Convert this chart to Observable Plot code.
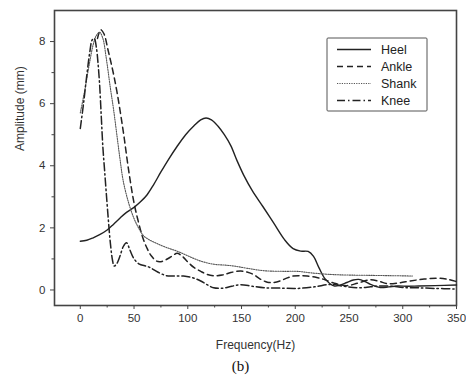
<!DOCTYPE html>
<html><head><meta charset="utf-8">
<script src="https://cdn.jsdelivr.net/npm/d3@7"></script>
<script src="https://cdn.jsdelivr.net/npm/@observablehq/plot@0.6"></script>
<style>
html,body{margin:0;padding:0;background:#fff;}
#chart{width:466px;height:379px;}
</style>
</head><body><div id="chart"></div>
<script>
// ---- data ----
const seriesNames = ["Heel", "Ankle", "Shank", "Knee"];

const heelF = [0,6,12,18,25,31,37,43,50,56,62,68,75,82,90,98,106,112,117,122,128,134,140,146,152,160,170,180,190,198,205,212,217,222,228,236,242,248,254,259,265,270,279,287,295,305,315,330,350];
const heelA = [1.57,1.6,1.68,1.78,1.93,2.12,2.32,2.5,2.66,2.84,3.06,3.38,3.8,4.2,4.62,5.0,5.3,5.48,5.54,5.48,5.28,5.0,4.65,4.15,3.7,3.2,2.68,2.15,1.62,1.33,1.25,1.24,1.08,0.72,0.35,0.13,0.16,0.24,0.32,0.34,0.27,0.18,0.08,0.1,0.13,0.12,0.13,0.14,0.16];

const ankleF = [16,19,22,26,30,34,40,45,50,54,58,62,66,71,76,80,85,90,95,100,106,112,118,124,132,140,149,155,161,167,174,180,186,192,198,205,211,220,226,236,248,258,270,278,286,297,307,320,332,342,350];
const ankleA = [8.1,8.38,8.25,7.7,7.1,6.4,5.1,3.85,2.8,2.2,1.7,1.35,1.1,0.93,0.92,0.98,1.08,1.18,1.08,0.9,0.72,0.6,0.5,0.46,0.48,0.56,0.61,0.58,0.5,0.36,0.25,0.24,0.29,0.38,0.45,0.46,0.45,0.4,0.35,0.22,0.14,0.22,0.33,0.28,0.2,0.23,0.29,0.35,0.38,0.34,0.27];

const shankF = [0,4,8,12,15,18,21,24,28,31,34,37,40,45,50,55,59,65,71,80,90,100,112,124,135,143,155,171,190,202,215,233,250,270,290,309];
const shankA = [5.7,6.4,7.2,7.9,8.2,8.3,8.1,7.5,6.5,5.8,5.0,4.2,3.5,2.8,2.3,1.95,1.74,1.6,1.5,1.37,1.25,1.1,0.93,0.83,0.8,0.77,0.7,0.62,0.6,0.6,0.55,0.5,0.48,0.47,0.46,0.45];

const kneeF = [0,3,6,9,11,13,15,16.5,18,19.5,21,22.5,24,26,28,30,31.5,34,37,40,43,46,50,55,60,65,72,80,88,96,104,112,118,124,133,141,149,160,171,185,202,218,233,245,258,270,279,290,300,313,330,350];
const kneeA = [5.2,6.0,6.9,7.7,8.05,8.1,7.8,7.3,6.6,5.6,4.6,3.9,3.2,2.3,1.5,0.95,0.77,0.85,1.1,1.4,1.52,1.3,1.0,0.83,0.78,0.72,0.58,0.46,0.45,0.45,0.4,0.29,0.17,0.07,0.06,0.12,0.17,0.12,0.07,0.06,0.05,0.1,0.18,0.12,0.07,0.1,0.13,0.12,0.08,0.07,0.05,0.03];

const xTicks = [0,50,100,150,200,250,300,350];
const xMinor = [25,75,125,175,225,275,325];
const yTicks = [0,2,4,6,8];
const yMinor = [1,3,5,7];

// ---- styles ----
const dashes = {Heel: null, Ankle: "6,4", Shank: "1.2,1.2", Knee: "8,3,1.5,3"};
const widths = {Heel: 1.4, Ankle: 1.5, Shank: 1.1, Knee: 1.5};
const colors = {Heel: "#222", Ankle: "#222", Shank: "#555", Knee: "#222"};

const raw = {Heel: [heelF, heelA], Ankle: [ankleF, ankleA], Shank: [shankF, shankA], Knee: [kneeF, kneeA]};
const tables = Object.fromEntries(seriesNames.map(n => [n, raw[n][0].map((f, i) => ({f, a: raw[n][1][i], s: n}))]));

const font = "'Liberation Sans', Arial, sans-serif";

const lineMarks = seriesNames.map(n => Plot.line(tables[n], {
  x: "f", y: "a", curve: "catmull-rom",
  stroke: colors[n], strokeWidth: widths[n], strokeDasharray: dashes[n]
}));

const chart = Plot.plot({
  width: 466, height: 379,
  marginLeft: 54, marginRight: 10, marginTop: 10, marginBottom: 74,
  style: {fontFamily: font, fontSize: "11px", color: "#333", background: "#fff"},
  x: {domain: [-24, 350]},
  y: {domain: [-0.5, 9]},
  marks: [
    Plot.frame({stroke: "#444", strokeWidth: 1.6}),
    Plot.axisX(xTicks, {tickSize: 4, tickPadding: 4, label: null, stroke: "#444", fill: "#333", fontSize: 11.5}),
    Plot.axisX(xMinor, {tickSize: 2.5, text: null, label: null, stroke: "#444"}),
    Plot.axisY(yTicks, {tickSize: 4, tickPadding: 5, label: null, stroke: "#444", fill: "#333", fontSize: 11.5}),
    Plot.axisY(yMinor, {tickSize: 2.5, text: null, label: null, stroke: "#444"}),
    ...lineMarks,
    Plot.text(["Frequency(Hz)"], {frameAnchor: "bottom", dy: 43, text: d => d, fontSize: 12, fill: "#333"}),
    Plot.text(["Amplitude (mm)"], {frameAnchor: "left", dx: -34, dy: -7, rotate: -90, text: d => d, fontSize: 12, fill: "#333"}),
    Plot.text(["(b)"], {frameAnchor: "bottom", dx: -15, dy: 65, text: d => d, fontSize: 15, fill: "#111", fontFamily: "'Liberation Serif', 'Times New Roman', serif"})
  ]
});

// ---- legend (box in the upper right of the frame) ----
const svg = d3.select(chart);
const lg = svg.append("g").attr("transform", "translate(327,38)");
lg.append("rect").attr("width", 100).attr("height", 73)
  .attr("fill", "#fff").attr("stroke", "#555").attr("stroke-width", 1).attr("rx", 1);
seriesNames.forEach((n, i) => {
  const y = 11.5 + i * 17;
  lg.append("line").attr("x1", 10).attr("x2", 44).attr("y1", y).attr("y2", y)
    .attr("stroke", colors[n]).attr("stroke-width", widths[n])
    .attr("stroke-dasharray", dashes[n]);
  lg.append("text").attr("x", 54).attr("y", y).attr("dy", "0.35em")
    .attr("text-anchor", "start")
    .attr("font-family", font).attr("font-size", 12.5).attr("fill", "#222").text(n);
});

document.getElementById("chart").appendChild(chart);
</script>
</body></html>
